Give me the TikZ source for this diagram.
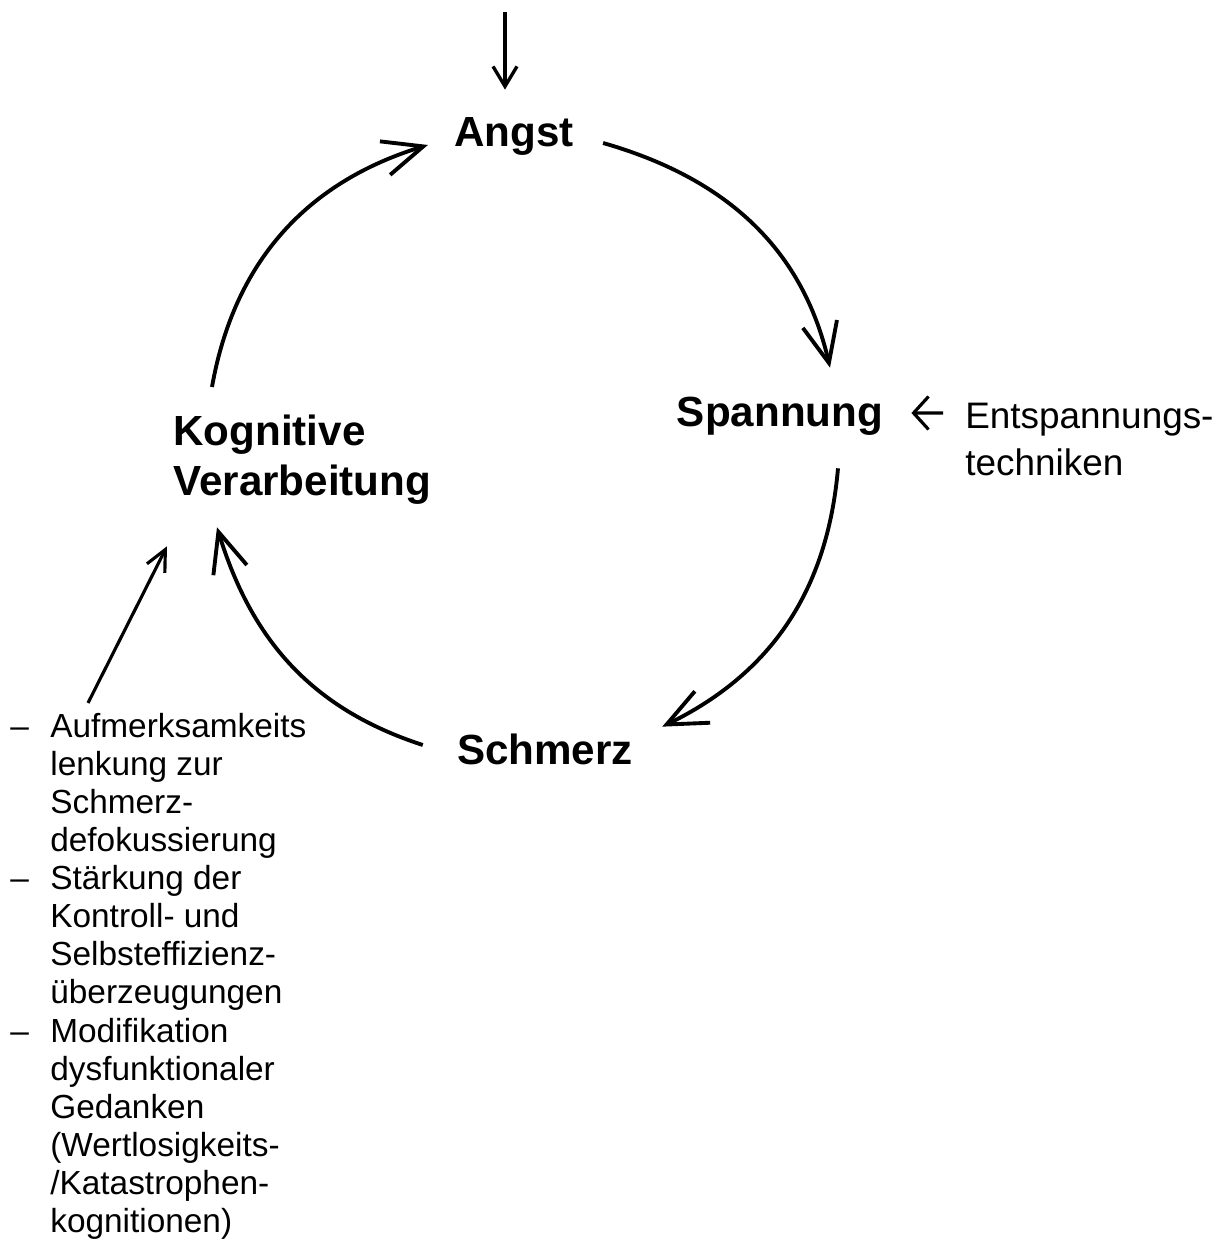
\documentclass[tikz,border=0pt]{standalone}
\usepackage{fontspec}
\setmainfont{Liberation Sans}
\usetikzlibrary{arrows.meta}

\begin{document}
\begin{tikzpicture}[x=0.02cm,y=0.02cm,
  stufe/.style={font=\fontsize{24}{28.5}\selectfont\bfseries, inner sep=0pt},
  kreis/.style={stufe, text height=0.6cm, text depth=0.2cm},
  hinweis/.style={font=\fontsize{21}{26.7}\selectfont, inner sep=0pt},
  liste/.style={font=\fontsize{19}{21.7}\selectfont, inner sep=0pt},
  kreispfeil/.style={-{Straight Barb[length=0.8cm,width=0.7cm]}, line width=2.2pt},
  pfeil/.style={-{Straight Barb[length=0.4cm,width=0.48cm]}, line width=1.9pt}]
  \useasboundingbox (0,0) rectangle (1225,1244);

  % stations of the circle
  \node[kreis, anchor=base] (angst) at (514,1097) {Angst};
  \node[kreis, anchor=base] (spannung) at (780,817) {Spannung};
  \node[kreis, anchor=base] (schmerz) at (545,479) {Schmerz};
  \node[stufe, anchor=north west, align=left] (kognition) at (173,829) {Kognitive\\Verarbeitung};

  % interventions
  \node[hinweis, anchor=north west, align=left] (entspannung) at (965,841) {Entspannungs-\\techniken};
  \node[liste, anchor=north west] (massnahmen) at (10,534) {%
    \begin{tabular}{@{}p{0.8cm}@{}l@{}}
      -- & Aufmerksamkeits\\
         & lenkung zur\\
         & Schmerz-\\
         & defokussierung\\
      -- & Stärkung der\\
         & Kontroll- und\\
         & Selbsteffizienz-\\
         & überzeugungen\\
      -- & Modifikation\\
         & dysfunktionaler\\
         & Gedanken\\
         & (Wertlosigkeits-\\
         & /Katastrophen-\\
         & kognitionen)
    \end{tabular}};
  \coordinate (eingang) at (505,1232);

  \draw[pfeil] (eingang) -- ([shift={(-9,27)}]angst.north);
  \draw[kreispfeil] ([shift={(29,-6)}]angst.east) to[out=-16,in=103] ([shift={(50,29)}]spannung.north);
  \draw[kreispfeil] ([shift={(58,-31)}]spannung.south) to[out=-95,in=26] ([shift={(29,8)}]schmerz.north east);
  \draw[kreispfeil] ([shift={(-34,10)}]schmerz.west) to[out=162,in=-73] ([shift={(44,-22)}]kognition.south west);
  \draw[kreispfeil] ([shift={(39,28)}]kognition.north west) to[out=80,in=-163] ([shift={(-26,-8)}]angst.west);

  \draw[-{Straight Barb[length=0.3cm,width=0.66cm]}, line width=1.8pt] ([shift={(-22,-10)}]entspannung.north west) -- ([shift={(28,4)}]spannung.east);
  \draw[-{Straight Barb[length=0.42cm,width=0.4cm]}, line width=1.8pt] ([shift={(78,7)}]massnahmen.north west) -- ([shift={(-6,-41)}]kognition.south west);
\end{tikzpicture}
\end{document}
